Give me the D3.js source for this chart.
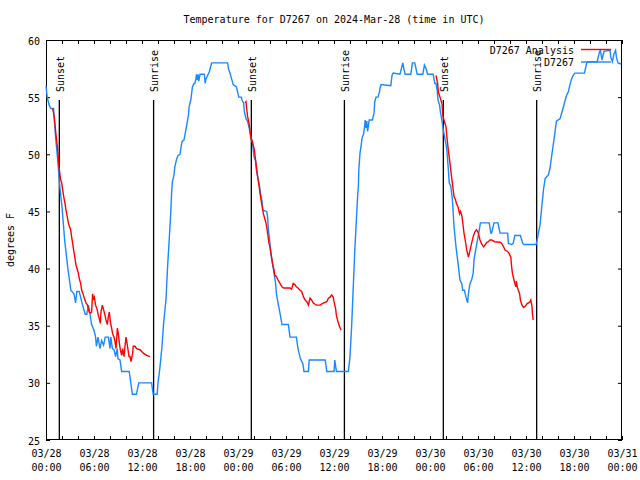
<!DOCTYPE html>
<html><head><meta charset="utf-8">
<script src="https://cdn.jsdelivr.net/npm/d3@7"></script>
<style>body{margin:0;background:#fff}svg{display:block}text{font-family:"DejaVu Sans Mono",monospace;font-size:10px;fill:#000}</style>
</head><body>
<svg id="c" width="640" height="480"></svg>
<script>
// ---- data (hours since 2024-03-28 00:00 UTC, degrees F) ----
const titleText = "Temperature for D7267 on 2024-Mar-28 (time in UTC)";
const yLabel = "degrees F";
const seriesNames = ["D7267 Analysis", "D7267"];
const yTicks = [25, 30, 35, 40, 45, 50, 55, 60];
const sunTimes = ["2024-03-28T01:40Z","2024-03-28T13:27Z","2024-03-29T01:40Z","2024-03-29T13:18Z","2024-03-30T01:40Z","2024-03-30T13:20Z"];
const sunLabels = ["Sunset","Sunrise","Sunset","Sunrise","Sunset","Sunrise"];

const obsHours = [0,0.15,0.4,0.6,0.95,1.0,1.2,1.46,1.75,2.0,2.33,2.7,3.1,3.5,3.7,3.85,4.15,4.5,4.9,5.1,5.3,5.5,5.7,6.0,6.2,6.3,6.5,6.75,6.95,7.2,7.4,7.8,8.0,8.1,8.3,8.5,8.7,8.9,9.0,9.25,9.45,10.4,10.6,10.8,11.3,11.6,13.2,13.4,13.9,14.0,14.25,14.5,14.7,15.0,15.2,15.4,15.6,15.7,15.8,16.0,16.1,16.3,16.5,16.75,16.9,17.0,17.25,17.4,17.6,17.8,17.9,18.1,18.2,18.3,18.5,18.6,18.75,18.8,18.9,19.0,19.1,19.25,19.8,19.9,20.0,20.2,20.4,20.6,20.7,22.7,22.8,23.0,23.2,23.4,23.8,24.0,24.1,24.4,24.5,24.7,24.8,25.0,25.2,25.4,25.6,25.8,25.9,26.0,26.2,26.3,26.5,26.7,26.8,27.0,27.1,27.6,27.7,27.8,28.0,28.1,28.3,28.5,28.7,28.8,29.0,29.25,29.5,30.3,30.5,31.3,31.5,31.8,32.1,32.25,32.8,32.9,34.9,35.1,36.0,36.1,36.3,37.8,38.0,38.2,38.6,38.95,39.05,39.1,39.25,39.4,39.5,39.7,39.8,39.9,40.0,40.1,40.2,40.4,40.8,41.0,41.1,41.25,41.5,41.7,41.75,41.9,43.1,43.25,43.4,44.25,44.6,44.75,44.9,45.6,45.8,46.1,46.25,46.4,47.1,47.3,47.5,47.7,48.4,48.6,48.75,48.9,49.0,49.2,49.3,49.5,49.6,49.75,49.9,50.1,50.2,50.3,50.4,50.6,50.8,51.0,51.25,51.5,51.75,51.96,52.1,52.3,52.5,52.7,52.8,53.0,53.2,53.4,53.5,53.7,53.9,54.1,54.3,55.4,55.6,55.7,56.0,56.5,56.75,57.7,57.8,58.2,58.4,58.6,59.3,59.6,59.75,61.25,61.4,61.5,61.75,62.0,62.2,62.4,62.8,63.0,63.2,63.4,63.6,63.8,64.25,64.5,64.7,64.9,65.1,65.3,65.5,65.7,65.9,66.1,67.3,67.6,67.7,68.9,69.2,69.3,69.5,69.6,69.75,70.5,70.6,70.8,71.0,71.2,71.3,71.5,71.9];
const obsTemps = [56,55,54.3,54,54,53.4,51.5,49.5,47,45.4,42.5,40.2,38.1,37.8,37,38,38,37,36,36,36.8,36,35.1,34.6,34,33.2,34,33,33.7,33.3,34,34,33,34,33,32.9,32.3,33,32.1,32,31,31,30,29,29,30,30,29,29,30,31.4,33.2,35.2,37.3,40.2,42.5,45,46.6,47.6,48.2,48.9,49.5,49.9,50,50.7,51.1,51.25,51.8,52.6,53.4,54.2,54.75,55.3,55.9,56.2,56.2,56.6,57,56.5,57,56.4,57,57,56.2,56.6,56.9,57.2,57.7,58,58,57.5,57.1,56.6,56.1,55.9,55.3,55,55,54.75,54.5,53.7,53.1,52.9,52.3,51.5,51.1,50.4,49.8,49.4,48.6,47.9,47.2,46.6,45.9,45.1,45,44.5,43.4,42.2,41.3,40.5,39.6,38.7,37.8,37,36.1,35.1,35.1,34,34,33,32.1,31.7,31,31,32,32,31,31,32,31,31,32.3,34.9,41.6,46.3,47.2,48.6,50.1,50.8,51.4,51.8,52.3,53,52.3,52.9,52,53,53,53.6,54.6,55,55,55.5,55.8,56.1,56,56.9,57.1,57,58,57.4,57,57,58,58,57.5,57,57,57.8,57.5,57,57,56.2,56.2,55.6,54.75,54.3,53.7,52.9,52.4,51.8,51.25,50.4,49.5,48.6,47.5,47.2,46,43.7,41.9,40.5,39,38.7,38.1,38.1,37.5,37,37.8,38.7,39,39.6,40.75,41.6,42.35,43.1,44,44,43.1,43.1,44,44,43.1,43.1,42.2,42.1,42.2,42.9,42.9,42.2,42.1,42.1,42.5,42.9,43.8,45.6,47,47.9,48.2,48.8,49.8,50.8,51.8,52.9,53.1,53.7,54.2,54.75,55.2,55.5,56.1,56.6,56.9,57.1,57.1,58,58.1,58.1,59,59.1,58.25,58.6,59,59.1,58.5,58.1,58.8,59.1,58.5,58,57.9];

const anaHours1 = [0.83,1.0,1.125,1.25,1.42,1.54,1.625,1.75,1.83,1.96,2.08,2.25,2.375,2.5,2.67,2.79,2.92,3.08,3.2,3.33,3.46,3.625,3.75,3.92,4.04,4.17,4.33,4.46,4.67,4.79,5.0,5.2,5.4,5.58,5.7,5.83,5.9,6.04,6.2,6.4,6.54,6.67,6.79,6.875,7.04,7.17,7.375,7.5,7.67,7.79,7.92,8.04,8.2,8.33,8.5,8.625,8.75,8.92,9.04,9.17,9.29,9.46,9.58,9.75,9.875,10.0,10.125,10.25,10.375,10.5,10.625,10.83,10.9,11.125,11.33,11.75,12.17,12.58,13.0];
const anaTemps1 = [54,53.4,52.6,51.7,50.7,49.8,48.9,48.2,47.75,47.5,46.9,46.15,45.7,45.1,44.5,44,43.7,43.4,42.8,42.2,41.6,40.9,40.3,39.9,39.6,39.1,38.7,38.1,37.7,37.4,37,36.8,36.2,36.1,36.2,37.8,37.25,37.5,36.8,36.4,35.9,35.6,35.2,36.2,36.8,36.5,35.9,35.5,35.1,35.8,36.2,35.35,34.8,34.3,34,33.6,33,34.8,34.3,33.5,32.9,32.4,33,32.3,33.2,34,33.5,32.9,32.3,32.3,31.85,32.6,33.2,33.2,33,32.9,32.6,32.4,32.3];
const anaHours2 = [24.875,25.0,25.08,25.2,25.375,25.5,25.625,25.8,25.9,26.04,26.2,26.3,26.46,26.625,26.75,26.875,27.04,27.17,27.29,27.46,27.58,27.7,27.875,28.0,28.2,28.3,28.5,28.6,28.8,29.0,29.25,29.5,29.7,30.5,30.7,30.9,31.1,31.3,31.5,31.75,31.96,32.2,32.4,32.6,32.8,33.0,33.2,33.4,33.6,33.8,34.25,34.7,35.1,35.3,35.5,35.7,35.9,36.0,36.2,36.3,36.5,36.7,36.9];
const anaTemps2 = [54.5,54.6,54,53.3,52.7,52.1,51.4,51.1,50.8,50.4,49.5,48.9,48,47.3,46.6,46,45.4,44.8,44.5,44.1,43.7,43.1,42.2,41.9,41,40.5,39.9,39.4,39.3,39,38.7,38.4,38.3,38.3,38.2,38.7,38.6,38.4,38.3,38.1,38,37.5,37.25,37.1,36.8,37.4,37.25,37,36.9,36.8,36.8,37,37.1,37.4,37.5,37.7,37.5,37.1,36.5,35.9,35.35,34.9,34.6];
const anaHours3 = [48.75,48.95,49.05,49.25,49.5,49.6,49.75,50.0,50.1,50.3,50.5,50.7,50.9,51.0,51.2,51.3,51.5,51.6,51.7,51.8,51.96,52.1,52.25,52.4,52.6,52.8,53.0,53.2,53.4,53.6,53.8,54.0,54.25,54.5,54.7,54.9,55.1,55.3,55.5,55.7,56.1,56.75,56.96,57.2,57.4,57.7,57.9,58.1,58.2,58.3,58.5,58.6,58.75,58.8,58.9,59.04,59.2,59.3,59.5,59.7,59.9,60.1,60.3,60.5,60.6,60.75,60.8,60.9];
const anaTemps3 = [56.9,56.2,55.4,55,54.4,53.4,53,52.4,51.6,50.3,49.2,48,46.9,46.3,46,45.7,45.4,45.1,44.8,45,44.7,44,43.1,42.5,41.6,41,41.6,42.2,42.8,43.2,43.4,43.2,42.5,42.1,41.9,42.1,42.3,42.35,42.5,42.5,42.35,42.3,42.2,41.9,41.6,41.5,41.3,41,40.2,39.6,39,38.7,38.4,38.9,38.4,38.1,37.8,37.25,36.8,36.6,36.7,36.9,37,37.1,37.25,36.7,36.1,35.5];

// ---- chart ----
const start = Date.UTC(2024, 2, 28);
const toDate = h => new Date(start + h * 3600e3);
const W = 640, H = 480, m = {l: 46, r: 622, t: 40, b: 440};
const svg = d3.select("#c");
const x = d3.scaleUtc().domain([toDate(0), toDate(72)]).range([m.l, m.r]);
const y = d3.scaleLinear().domain([25, 60]).range([m.b, m.t]);
const red = "#ff0000", blue = "#1a88ff";

const xTicks = d3.utcHour.every(2).range(toDate(0), toDate(72.01));

// axes (inward ticks)
const gB = svg.append("g").attr("transform", `translate(0,${m.b})`)
  .call(d3.axisBottom(x).tickValues(xTicks).tickSize(-4).tickSizeOuter(0).tickFormat(() => ""));
const gT = svg.append("g").attr("transform", `translate(0,${m.t})`)
  .call(d3.axisTop(x).tickValues(xTicks).tickSize(-4).tickSizeOuter(0).tickFormat(() => ""));
const gL = svg.append("g").attr("transform", `translate(${m.l},0)`)
  .call(d3.axisLeft(y).tickValues(yTicks).tickSize(-4).tickSizeOuter(0).tickFormat(d3.format("d")));
const gR = svg.append("g").attr("transform", `translate(${m.r},0)`)
  .call(d3.axisRight(y).tickValues(yTicks).tickSize(-4).tickSizeOuter(0).tickFormat(() => ""));
[gB, gT, gL, gR].forEach(g => { g.select(".domain").remove(); g.selectAll("line").attr("stroke", "#000"); g.attr("font-family", null).attr("font-size", null); });
gL.selectAll("text").attr("x", -6).attr("dy", null).attr("dominant-baseline", null).attr("y", 4);

const fD = d3.utcFormat("%m/%d"), fH = d3.utcFormat("%H:%M");
gB.selectAll(".tick").filter(d => d.getUTCHours() % 6 === 0).select("text")
  .attr("y", 17).attr("dy", null)
  .each(function(d) {
    const t = d3.select(this);
    t.append("tspan").attr("x", 0).attr("y", 17).text(fD(d));
    t.append("tspan").attr("x", 0).attr("y", 31).text(fH(d));
  });

// frame
svg.append("rect").attr("x", m.l + 0.5).attr("y", m.t + 0.5)
  .attr("width", m.r - m.l - 1).attr("height", m.b - m.t - 1)
  .attr("fill", "none").attr("stroke", "#000");

// sunrise / sunset markers
const sunG = svg.append("g");
sunTimes.forEach((s, i) => {
  const px = x(new Date(s));
  sunG.append("line").attr("x1", px).attr("x2", px).attr("y1", m.t + 60).attr("y2", m.b)
    .attr("stroke", "#000").attr("stroke-width", 1.3);
  sunG.append("text").attr("transform", `translate(${px + 4.5},${m.t + 52}) rotate(-90)`)
    .attr("text-anchor", "start").text(sunLabels[i]);
});

// lines
const line = d3.line().x(d => x(toDate(d[0]))).y(d => y(d[1]));
const obs = obsHours.map((h, i) => [h, obsTemps[i]]);
const anas = [[anaHours1, anaTemps1], [anaHours2, anaTemps2], [anaHours3, anaTemps3]]
  .map(([hs, ts]) => hs.map((h, i) => [h, ts[i]]));
svg.append("path").datum(obs).attr("d", line).attr("fill", "none").attr("stroke", blue).attr("stroke-width", 1.4);
anas.forEach(a => svg.append("path").datum(a).attr("d", line).attr("fill", "none").attr("stroke", red).attr("stroke-width", 1.4));

// legend
const leg = [{name: seriesNames[0], c: red, y: 49.5}, {name: seriesNames[1], c: blue, y: 62}];
leg.forEach(l => {
  svg.append("text").attr("x", 574).attr("y", l.y + 4).attr("text-anchor", "end").text(l.name);
  svg.append("line").attr("x1", 581).attr("x2", 611).attr("y1", l.y).attr("y2", l.y)
    .attr("stroke", l.c).attr("stroke-width", 1.4);
});

// title, y label
svg.append("text").attr("x", (m.l + m.r) / 2).attr("y", 23).attr("text-anchor", "middle").text(titleText);
svg.append("text").attr("transform", `translate(14,${(m.t + m.b) / 2}) rotate(-90)`)
  .attr("text-anchor", "middle").text(yLabel);
</script>
</body></html>
